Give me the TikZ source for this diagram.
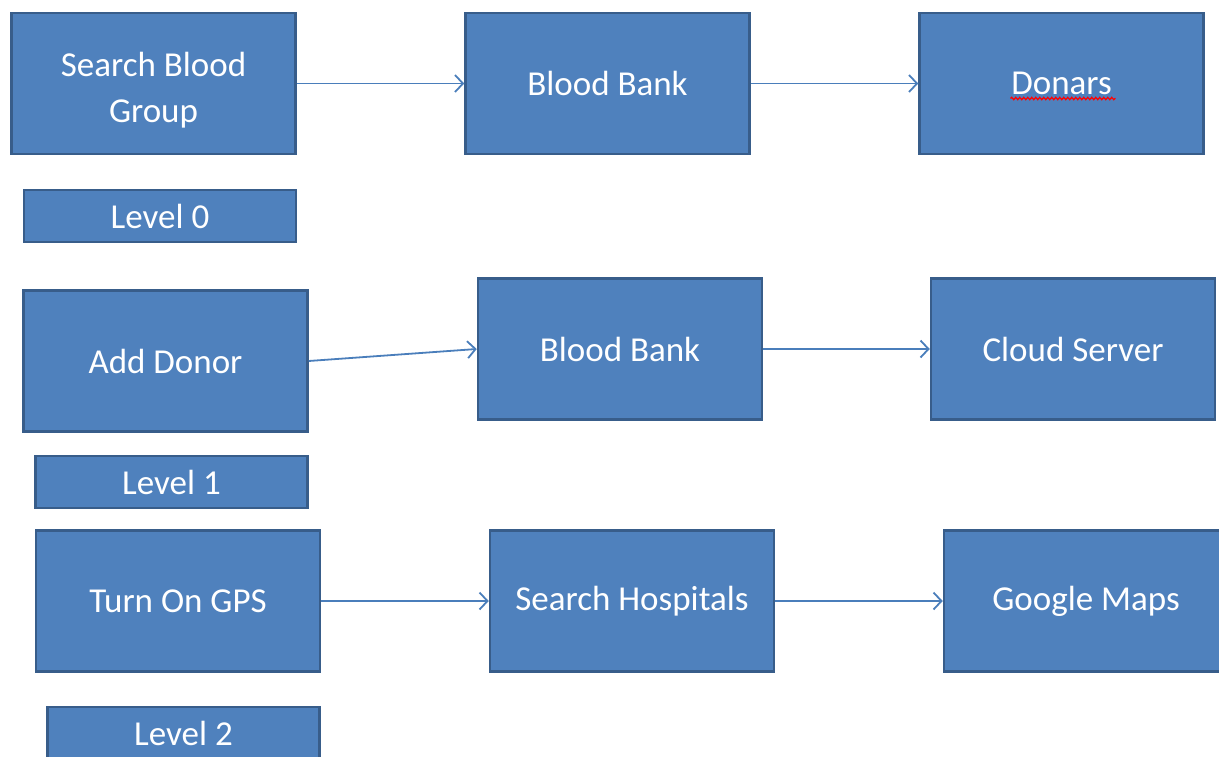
\documentclass[tikz,border=0pt]{standalone}
\usepackage{fontspec}
\setmainfont{Carlito}
\usetikzlibrary{arrows.meta,decorations.pathmorphing}
\definecolor{boxfill}{HTML}{4F81BD}
\definecolor{boxline}{HTML}{385D8A}
\definecolor{flow}{HTML}{4A7EBB}
\tikzset{
  box/.style={draw=boxline, fill=boxfill, line width=2.5pt, text=white,
    font=\fontsize{35}{46}\selectfont, align=center, inner sep=0pt,
    minimum width=284pt, minimum height=141pt},
  lvl/.style={box, minimum width=272pt, minimum height=52pt},
  boxtext/.style={text=white, font=\fontsize{35}{46}\selectfont, align=center, inner sep=0pt},
  flowarrow/.style={draw=flow, line width=1.8pt,
    -{Straight Barb[length=8pt,width=17pt,line width=1.8pt]}}
}
\begin{document}
\begin{tikzpicture}[x=1pt,y=-1pt]
\useasboundingbox (0,0) rectangle (1219,756);
% Level 0
\node[box] (sbg) at (153.5,83.5) {};
\node[boxtext] (sbgtext) at (153.5,90) {Search Blood\\Group};
\node[box] (bb0) at (607.5,83.5) {Blood Bank};
\node[box] (don) at (1061.5,83.5) {Donars};
\node[lvl] (l0) at (160,216) {Level 0};
% spelling mark under "Donars"
\draw[red, line width=1.2pt, decorate,
  decoration={snake, amplitude=1.2pt, segment length=4pt}]
  ([xshift=-51pt,yshift=-15pt]don.center) -- ([xshift=54pt,yshift=-15pt]don.center);
% Level 1
\node[box] (add) at (165.5,361) {Add Donor};
\node[box] (bb1) at (620,349) {Blood Bank};
\node[box] (cld) at (1073,349) {Cloud Server};
\node[lvl] (l1) at (171.5,482) {Level 1};
% Level 2
\node[box] (gps) at (178,601) {Turn On GPS};
\node[box] (hos) at (632,601) {Search Hospitals};
\node[box] (map) at (1086,601) {Google Maps};
\node[lvl] (l2) at (183.5,733) {Level 2};
% connectors
\draw[flowarrow] (sbg) -- (bb0);
\draw[flowarrow] (bb0) -- (don);
\draw[flowarrow] (add.east) -- (bb1.west);
\draw[flowarrow] (bb1) -- (cld);
\draw[flowarrow] (gps) -- (hos);
\draw[flowarrow] (hos) -- (map);
\end{tikzpicture}
\end{document}
